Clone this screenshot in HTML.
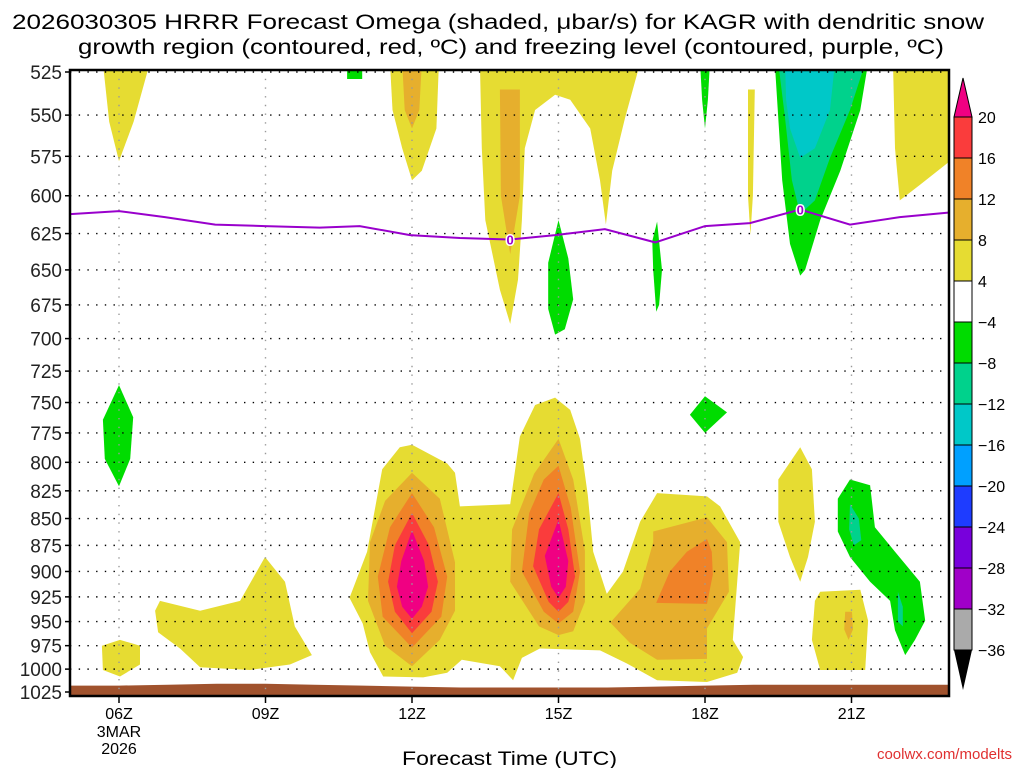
<!DOCTYPE html>
<html><head><meta charset="utf-8"><style>
html,body{margin:0;padding:0;background:#fff;width:1024px;height:768px;overflow:hidden}
svg{display:block;font-family:"Liberation Sans",sans-serif}
</style></head><body>
<svg id="chart" width="1024" height="768" viewBox="0 0 1024 768" xmlns="http://www.w3.org/2000/svg">
<text x="12" y="29" font-size="21" textLength="972" lengthAdjust="spacingAndGlyphs">2026030305 HRRR Forecast Omega (shaded, μbar/s) for KAGR with dendritic snow</text>
<text x="78" y="54" font-size="21" textLength="866" lengthAdjust="spacingAndGlyphs">growth region (contoured, red, ºC) and freezing level (contoured, purple, ºC)</text>
<g id="fills"></g>
<g id="grid"></g>
<g id="frz"></g>
<g id="axes"></g>
<g id="cbar"></g>
<text x="402" y="765" font-size="19" textLength="215" lengthAdjust="spacingAndGlyphs">Forecast Time (UTC)</text>
<text x="1012" y="759" font-size="15" text-anchor="end" fill="#e03030">coolwx.com/modelts</text>
</svg>
<script>
const pressureTicks=[525,550,575,600,625,650,675,700,725,750,775,800,825,850,875,900,925,950,975,1000,1025];
const hourTicks=[6,9,12,15,18,21];
const hourLabels=["06Z","09Z","12Z","15Z","18Z","21Z"];
const cbarLevels=["20","16","12","8","4","−4","−8","−12","−16","−20","−24","−28","−32","−36"];
const cbarColors=["#fa3c3c","#f08228","#e6af2d","#e6dc32","#ffffff","#00dc00","#00d28c","#00c8c8","#00a0ff","#1e3cff","#7800dc","#a000c8","#aaaaaa"];
const levelColor={yel:"#e6dc32",lor:"#e6af2d",org:"#f08228",red:"#fa3c3c",mag:"#f00082",grn:"#00dc00",teal:"#00d28c",cyan:"#00c8c8"};
const frzHours=[5,6,6.94,7.97,8.99,10.11,10.93,11.96,12.98,14.01,14.93,15.95,16.98,18,18.92,19.95,20.97,21.99,22.98];
const frzPres=[612,610,614,619,620,621,620,626,628,629,626,622,631,620,618,609,619,614,611];
const sfcHours=[5,6,7,8,9,10,11,12,13,14,15,16,17,18,19,20,21,22,23];
const sfcPres=[1018,1018,1017,1016,1016,1017,1018,1019,1020,1020,1020,1020,1019,1018,1017,1017,1017,1017,1017];
const blobs=[
["yel",[[5.67,520],[6.63,520],[6.3,554],[6.0,578],[5.8,554]]],
["yel",[[11.55,520],[12.55,520],[12.5,558],[12.2,584],[12.0,590],[11.8,570],[11.6,547]]],
["lor",[[11.8,520],[12.2,520],[12.15,547],[12.0,558],[11.85,547]]],
["yel",[[13.39,520],[16.67,520],[16.36,552],[16.10,584],[15.97,619],[15.85,590],[15.65,558],[15.24,541],[14.93,538],[14.52,547],[14.31,570],[14.25,616],[14.17,657],[14.01,689],[13.80,664],[13.5,616],[13.43,570]]],
["lor",[[13.80,535],[14.21,535],[14.21,600],[14.01,639],[13.82,600]]],
["grn",[[10.67,520],[10.98,520],[10.98,529],[10.67,529]]],
["grn",[[17.9,520],[18.1,520],[18.06,541],[18.0,558],[17.94,541]]],
["yel",[[18.88,535],[19.02,535],[18.98,600],[18.93,626],[18.88,600]]],
["grn",[[19.43,520],[21.34,520],[21.18,547],[20.77,584],[20.36,616],[20.05,650],[19.95,654],[19.74,632],[19.58,590],[19.50,552]]],
["teal",[[19.50,520],[21.28,520],[20.97,547],[20.56,576],[20.25,603],[19.95,612],[19.78,590],[19.64,552]]],
["cyan",[[19.64,520],[20.66,520],[20.56,547],[20.25,570],[19.95,576],[19.74,558],[19.66,541]]],
["yel",[[21.85,520],[23.1,520],[23.1,576],[22.4,593],[21.99,603],[21.89,570]]],
["grn",[[15.0,616],[15.20,642],[15.30,671],[15.13,693],[14.93,697],[14.79,678],[14.79,645]]],
["grn",[[17.02,617],[17.12,650],[17.06,675],[17.0,680],[16.94,650],[16.92,630]]],
["grn",[[6.0,736],[6.29,762],[6.23,797],[6.0,821],[5.71,797],[5.67,764]]],
["grn",[[18.0,745],[18.45,758],[18.0,775],[17.69,760]]],
["yel",[[5.65,975],[6.02,969],[6.43,975],[6.43,995],[6.02,1008],[5.67,1001]]],
["yel",[[6.84,929],[7.66,939],[8.48,929],[8.99,886],[9.40,910],[9.60,955],[9.95,985],[9.50,995],[8.68,1001],[7.66,998],[7.25,978],[6.80,961],[6.74,939]]],
["yel",[[19.95,787],[20.19,806],[20.25,853],[20.11,886],[19.95,910],[19.74,886],[19.50,853],[19.50,815]]],
["yel",[[20.36,920],[21.18,918],[21.34,949],[21.28,1001],[20.36,1001],[20.19,969],[20.25,929]]],
["lor",[[20.87,940],[21.01,940],[21.03,958],[20.94,969],[20.85,958]]],
["grn",[[20.97,815],[21.38,820],[21.48,858],[21.89,881],[22.40,910],[22.51,949],[22.30,969],[22.10,985],[21.89,959],[21.79,929],[21.38,910],[20.97,886],[20.72,862],[20.72,832]]],
["teal",[[20.97,837],[21.15,850],[21.2,870],[21.05,875],[20.95,860]]],
["teal",[[21.95,920],[22.05,935],[22.05,955],[21.95,950]]],
["yel",[[12.0,785],[11.75,787],[11.39,806],[11.08,881],[10.72,926],[10.99,952],[11.14,982],[11.41,1008],[12.23,1009],[12.72,1004],[13.02,990],[13.80,997],[14.07,1012],[14.25,988],[14.62,978],[15.85,980],[16.40,994],[17.02,1012],[18.04,1014],[18.66,1004],[18.78,987],[18.57,969],[18.72,872],[18.31,839],[18.04,830],[17.02,827],[16.67,853],[16.32,900],[15.99,922],[15.71,881],[15.60,829],[15.44,780],[15.24,756],[14.93,746],[14.52,752],[14.21,778],[14.01,837],[12.98,839],[12.88,809],[12.72,801]]],
["lor",[[12.0,809],[12.57,832],[12.88,891],[12.88,939],[12.57,969],[12.0,997],[11.45,975],[11.10,929],[11.14,872],[11.45,834]]],
["org",[[12.0,827],[12.45,858],[12.72,905],[12.6,945],[12.0,977],[11.4,945],[11.3,905],[11.55,858]]],
["red",[[12.0,845],[12.35,875],[12.53,910],[12.4,940],[12.0,962],[11.65,940],[11.51,910],[11.65,875]]],
["mag",[[12.0,861],[12.25,890],[12.33,915],[12.2,935],[12.0,947],[11.8,935],[11.69,915],[11.78,890]]],
["lor",[[15.0,780],[15.3,815],[15.54,880],[15.54,930],[15.3,960],[15.0,964],[14.6,955],[14.01,910],[14.05,860],[14.5,810]]],
["org",[[15.0,803],[15.25,840],[15.44,900],[15.3,940],[15.0,952],[14.7,940],[14.25,900],[14.4,845],[14.7,815]]],
["red",[[15.0,827],[15.2,860],[15.34,905],[15.2,930],[15.0,940],[14.8,930],[14.48,895],[14.6,860]]],
["mag",[[15.0,851],[15.2,890],[15.15,915],[15.0,926],[14.85,915],[14.72,885]]],
["lor",[[16.94,862],[18.04,849],[18.45,872],[18.49,920],[18.04,957],[18.04,989],[17.02,990],[16.46,972],[16.06,951],[16.67,917],[16.94,872]]],
["org",[[18.04,869],[18.14,881],[18.16,903],[18.04,932],[17.0,931],[17.28,900],[17.63,881]]]
];
const L=70,R=949,T=70,B=696;
const P0=525,P1=1025,YT=72,YB=692;
function xs(h){return 119+(h-6)*(412-119)/6;}
function ys(p){return YT+(Math.log(p)-Math.log(P0))/(Math.log(P1)-Math.log(P0))*(YB-YT);}
const NS="http://www.w3.org/2000/svg";
function mk(tag,attrs,parent){const e=document.createElementNS(NS,tag);for(const k in attrs)e.setAttribute(k,attrs[k]);parent.appendChild(e);return e;}
const svg=document.getElementById('chart');
const defs=mk('defs',{},svg);
const cp=mk('clipPath',{id:'plotclip'},defs);
mk('rect',{x:L,y:T,width:R-L,height:B-T},cp);
const fills=document.getElementById('fills');
fills.setAttribute('clip-path','url(#plotclip)');
blobs.forEach((b,i)=>{
  const pts=b[1].map(q=>xs(q[0]).toFixed(1)+','+ys(q[1]).toFixed(1)).join(' ');
  const el=mk('polygon',{points:pts,fill:levelColor[b[0]]},fills);
  
  
});
let gp='M'+xs(sfcHours[0]-1)+','+B;
sfcHours.forEach((h,i)=>{gp+=' L'+xs(h).toFixed(1)+','+ys(sfcPres[i]).toFixed(1);});
gp+=' L'+xs(24)+','+B+' Z';
const ground=mk('path',{d:gp,fill:'#a0522d'},fills);


const grid=document.getElementById('grid');
pressureTicks.forEach(p=>{
  if(p===P1)return;
  const y=ys(p);
  const ln=mk('line',{x1:L,x2:R,y1:y,y2:y,stroke:'#000','stroke-width':1.4,'stroke-dasharray':'1.4 7.3'},grid);
  
  
});
hourTicks.forEach(h=>{
  const x=xs(h);
  const ln=mk('line',{x1:x,x2:x,y1:T,y2:B,stroke:'#999','stroke-width':1.4,'stroke-dasharray':'1.4 7.3'},grid);
  
  
});
const frz=document.getElementById('frz');
const fl=mk('polyline',{points:frzHours.map((h,i)=>xs(h).toFixed(1)+','+ys(frzPres[i]).toFixed(1)).join(' '),fill:'none',stroke:'#9900cc','stroke-width':2},frz);


[[14.01,629],[19.95,609]].forEach(q=>{
  const t=mk('text',{x:xs(q[0]),y:ys(q[1])+5,'font-size':13,'font-weight':'bold','text-anchor':'middle',fill:'#9900cc',stroke:'#fff','stroke-width':3,'paint-order':'stroke'},frz);
  t.textContent='0';
  
  
});
const axes=document.getElementById('axes');
const fr=mk('rect',{x:L,y:T,width:R-L,height:B-T,fill:'none',stroke:'#000','stroke-width':2.5},axes);


pressureTicks.forEach(p=>{
  const y=ys(p);
  mk('line',{x1:L-5,x2:L,y1:y,y2:y,stroke:'#000','stroke-width':1.5},axes);
  const t=mk('text',{x:L-8,y:y+7,'font-size':19,'text-anchor':'end',fill:'#222'},axes);
  t.textContent=p;
  
  
});
hourTicks.forEach((h,i)=>{
  const x=xs(h);
  mk('line',{x1:x,x2:x,y1:B,y2:B+7,stroke:'#000','stroke-width':1.5},axes);
  const t=mk('text',{x:x,y:B+23,'font-size':16,'text-anchor':'middle'},axes);
  t.textContent=hourLabels[i];
  
  
});
['3MAR','2026'].forEach((s,i)=>{
  const t=mk('text',{x:xs(6),y:B+41+i*17,'font-size':16,'text-anchor':'middle'},axes);
  t.textContent=s;
  
  
});
const cb=document.getElementById('cbar');
const cx0=954,cx1=972,cy0=117,step=41;
mk('polygon',{points:`${cx0},${cy0} ${cx1},${cy0} ${(cx0+cx1)/2},78`,fill:'#f00082',stroke:'#000','stroke-width':1},cb);
cbarColors.forEach((c,i)=>{
  const r=mk('rect',{x:cx0,y:cy0+i*step,width:cx1-cx0,height:step,fill:c,stroke:'#000','stroke-width':1},cb);
  
  
});
const cyb=cy0+cbarColors.length*step;
mk('polygon',{points:`${cx0},${cyb} ${cx1},${cyb} ${(cx0+cx1)/2},690`,fill:'#000'},cb);
cbarLevels.forEach((s,i)=>{
  const t=mk('text',{x:978,y:cy0+i*step+6,'font-size':16},cb);
  t.textContent=s;
  
  
});
</script>
</body></html>
